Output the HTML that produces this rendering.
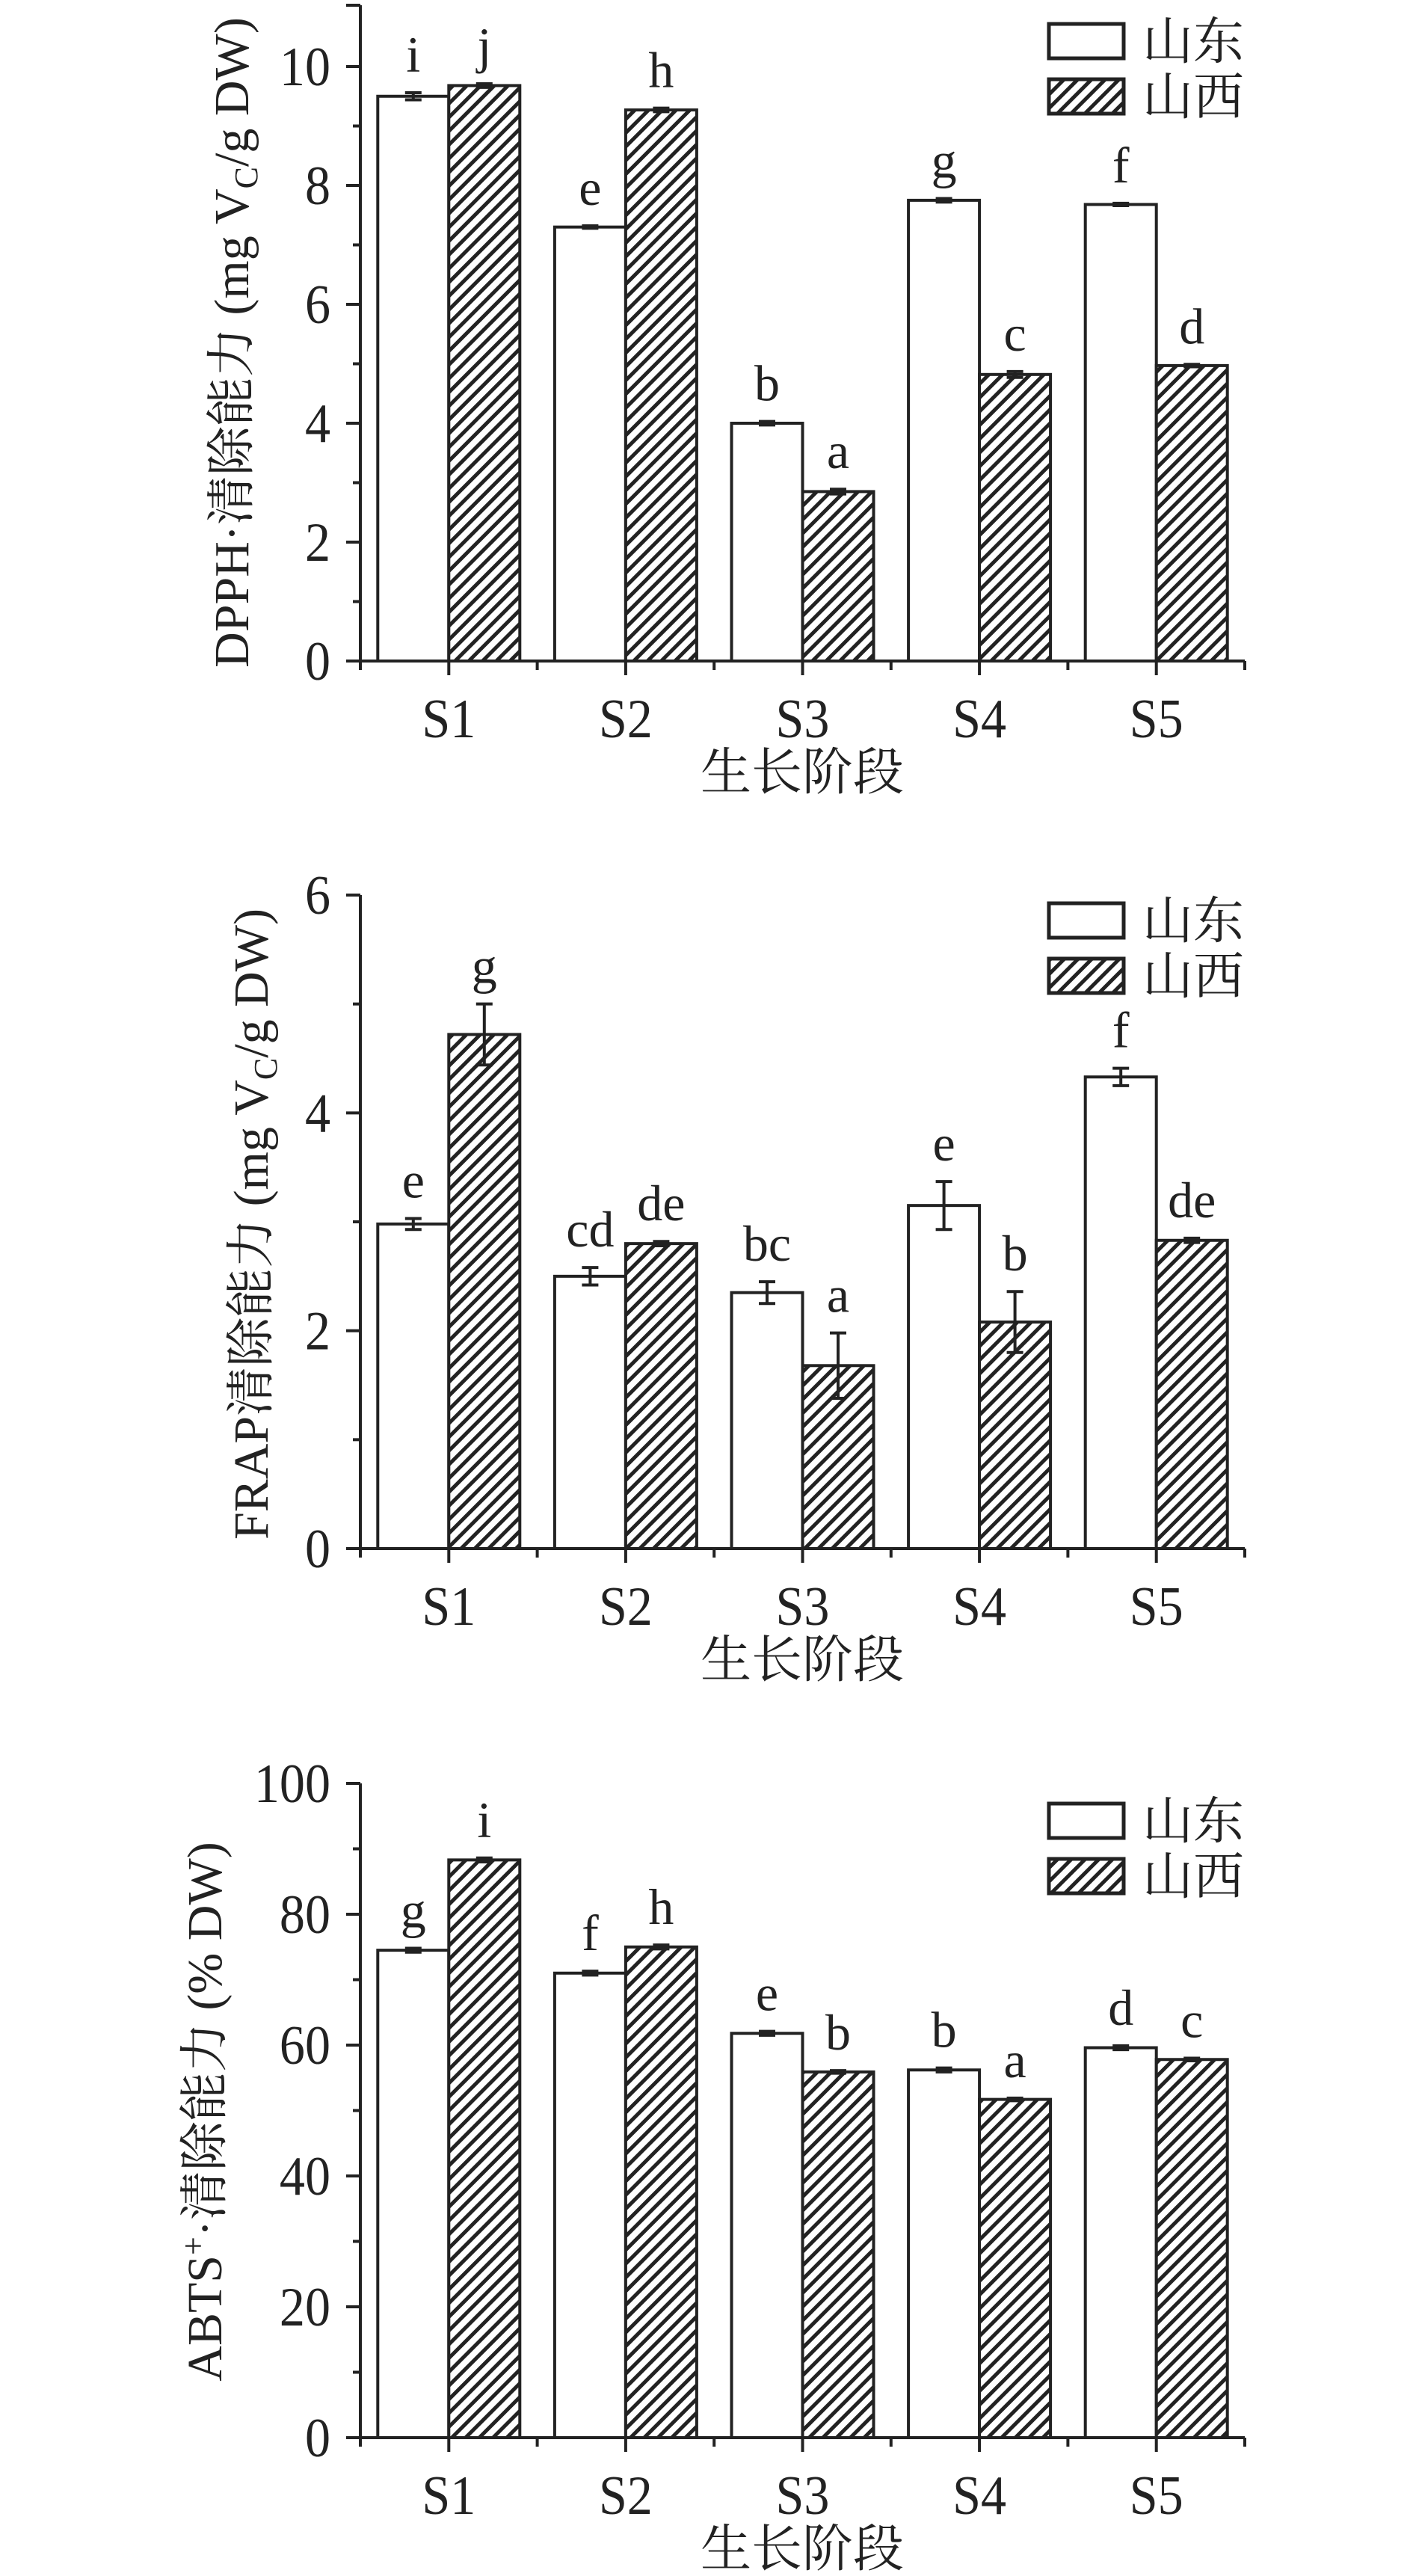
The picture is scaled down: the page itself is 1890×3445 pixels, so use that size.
<!DOCTYPE html>
<html><head><meta charset="utf-8">
<style>
html,body{margin:0;padding:0;background:#fff;}
svg{display:block;}
text{font-family:"Liberation Serif","Noto Serif CJK SC",serif;fill:#222;}
</style></head>
<body>
<svg id="fig" width="1890" height="3445" viewBox="0 0 1890 3445" xmlns="http://www.w3.org/2000/svg">
<defs>
<pattern id="hatch" patternUnits="userSpaceOnUse" width="13" height="13" patternTransform="rotate(45)">
<rect width="13" height="13" fill="#fff"/>
<rect x="0" y="0" width="5" height="13" fill="#222"/>
</pattern>
</defs>
</svg>
<script>
const categories = ["S1","S2","S3","S4","S5"];
const seriesNames = ["山东","山西"];
// Chart 1: DPPH
const dpphShandong = [9.5, 7.3, 4.0, 7.75, 7.68];
const dpphShandongErr = [0.06, 0.02, 0.03, 0.03, 0.02];
const dpphShanxi = [9.68, 9.27, 2.85, 4.82, 4.97];
const dpphShanxiErr = [0.03, 0.03, 0.04, 0.05, 0.02];
const dpphLettersShandong = ["i","e","b","g","f"];
const dpphLettersShanxi = ["j","h","a","c","d"];
const dpphTicks = [0,2,4,6,8,10];
// Chart 2: FRAP
const frapShandong = [2.98, 2.5, 2.35, 3.15, 4.33];
const frapShandongErr = [0.05, 0.08, 0.1, 0.22, 0.08];
const frapShanxi = [4.72, 2.8, 1.68, 2.08, 2.83];
const frapShanxiErr = [0.28, 0.02, 0.3, 0.28, 0.02];
const frapLettersShandong = ["e","cd","bc","e","f"];
const frapLettersShanxi = ["g","de","a","b","de"];
const frapTicks = [0,2,4,6];
// Chart 3: ABTS
const abtsShandong = [74.5, 71.0, 61.8, 56.2, 59.6];
const abtsShandongErr = [0.3, 0.3, 0.3, 0.3, 0.3];
const abtsShanxi = [88.3, 75.0, 55.9, 51.7, 57.8];
const abtsShanxiErr = [0.3, 0.3, 0.2, 0.2, 0.2];
const abtsLettersShandong = ["g","f","e","b","d"];
const abtsLettersShanxi = ["i","h","b","a","c"];
const abtsTicks = [0,20,40,60,80,100];

const NS = "http://www.w3.org/2000/svg";
const svg = document.getElementById("fig");
function mk(tag, attrs, parent){
  const e = document.createElementNS(NS, tag);
  for (const k in attrs) e.setAttribute(k, attrs[k]);
  (parent||svg).appendChild(e);
  return e;
}

function drawChart(cfg){
  const g = mk("g", {});
  
  
  const x0 = 482, x1 = 1665;
  const yScale = v => cfg.y0 - v * (cfg.y0 - cfg.yMaxPx) / cfg.tickMax;
  const groupW = (x1 - x0) / categories.length;
  const xCenter = i => x0 + groupW * (i + 0.5);
  const barW = 95;
  const series = [
    {vals: cfg.a, err: cfg.ae, lab: cfg.al, fill: "#fff", off: -barW},
    {vals: cfg.b, err: cfg.be, lab: cfg.bl, fill: "url(#hatch)", off: 0}
  ];
  series.forEach((s, si) => {
    s.vals.forEach((v, i) => {
      const bx = xCenter(i) + s.off;
      const top = yScale(v);
      const r = mk("rect", {x: bx, y: top, width: barW, height: cfg.y0 - top, fill: s.fill, stroke: "#222", "stroke-width": 4}, g);
      
      
      const cx = bx + barW / 2;
      const et = yScale(v + s.err[i]), eb = yScale(v - s.err[i]);
      const eg = mk("g", {stroke: "#222", "stroke-width": 4}, g);
      
      
      mk("line", {x1: cx, x2: cx, y1: et, y2: eb}, eg);
      mk("line", {x1: cx - 11, x2: cx + 11, y1: et, y2: et}, eg);
      mk("line", {x1: cx - 11, x2: cx + 11, y1: eb, y2: eb}, eg);
      const t = mk("text", {x: cx, y: et - 28, "text-anchor": "middle", "font-size": 68}, g);
      t.textContent = s.lab[i];
      
      
    });
  });
  const ax = mk("g", {stroke: "#222", "stroke-width": 4, fill: "none"}, g);
  
  
  mk("line", {x1: x0, x2: x0, y1: cfg.axisTop, y2: cfg.y0 + 2}, ax);
  mk("line", {x1: x0 - 2, x2: x1, y1: cfg.y0, y2: cfg.y0}, ax);
  mk("line", {x1: x0, x2: x0 - 19, y1: cfg.axisTop, y2: cfg.axisTop}, ax);
  const step = cfg.ticks[1] - cfg.ticks[0];
  cfg.ticks.forEach((tv, ti) => {
    const y = yScale(tv);
    mk("line", {x1: x0 - 19, x2: x0, y1: y, y2: y}, ax);
    if (ti < cfg.ticks.length - 1) {
      const ym = yScale(tv + step / 2);
      mk("line", {x1: x0 - 10, x2: x0, y1: ym, y2: ym}, ax);
    }
    const t = mk("text", {x: x0 - 40, y: y + 25, "text-anchor": "end", "font-size": 74, transform: `translate(${x0-40},0) scale(0.92,1) translate(${-(x0-40)},0)`}, g);
    t.textContent = tv;
    
    
  });
  categories.forEach((c, i) => {
    const xc = xCenter(i);
    mk("line", {x1: xc, x2: xc, y1: cfg.y0, y2: cfg.y0 + 19}, ax);
    const xb = x0 + groupW * (i + 1);
    mk("line", {x1: xb, x2: xb, y1: cfg.y0, y2: cfg.y0 + 12}, ax);
    const t = mk("text", {x: xc, y: cfg.y0 + 102, "text-anchor": "middle", "font-size": 74, transform: `translate(${xc},0) scale(0.92,1) translate(${-xc},0)`}, g);
    t.textContent = c;
    
    
  });
  mk("line", {x1: x0, x2: x0, y1: cfg.y0, y2: cfg.y0 + 12}, ax);
  const xt = mk("text", {x: 1073, y: cfg.y0 + 172, "text-anchor": "middle", "font-size": 68}, g);
  xt.textContent = "生长阶段";
  
  
  const yt = mk("text", {x: 0, y: 0, "text-anchor": "middle", "font-size": 66, transform: `translate(${cfg.ytX},${cfg.ytY}) rotate(-90)`}, g);
  
  
  yt.innerHTML = cfg.ytHTML;
  const lg = mk("g", {}, g);
  
  
  seriesNames.forEach((n, i) => {
    const cy = cfg.legY + i * 74;
    const b = mk("rect", {x: 1403, y: cy - 23, width: 100, height: 46, fill: i ? "url(#hatch)" : "#fff", stroke: "#222", "stroke-width": 5}, lg);
    
    
    const t = mk("text", {x: 1528, y: cy + 24, "font-size": 68}, lg);
    t.textContent = n;
    
    
  });
}

drawChart({name: "dpph-chart", a: dpphShandong, ae: dpphShandongErr, b: dpphShanxi, be: dpphShanxiErr,
  al: dpphLettersShandong, bl: dpphLettersShanxi, ticks: dpphTicks, tickMax: 10,
  y0: 884, yMaxPx: 89, axisTop: 7, legY: 55,
  ytX: 332, ytY: 458,
  ytHTML: 'DPPH·清除能力 (mg V<tspan font-size="44" dy="12">C</tspan><tspan dy="-12">/g DW)</tspan>'});
drawChart({name: "frap-chart", a: frapShandong, ae: frapShandongErr, b: frapShanxi, be: frapShanxiErr,
  al: frapLettersShandong, bl: frapLettersShanxi, ticks: frapTicks, tickMax: 6,
  y0: 2071, yMaxPx: 1197, axisTop: 1197, legY: 1231,
  ytX: 358, ytY: 1637,
  ytHTML: 'FRAP清除能力 (mg V<tspan font-size="44" dy="12">C</tspan><tspan dy="-12">/g DW)</tspan>'});
drawChart({name: "abts-chart", a: abtsShandong, ae: abtsShandongErr, b: abtsShanxi, be: abtsShanxiErr,
  al: abtsLettersShandong, bl: abtsLettersShanxi, ticks: abtsTicks, tickMax: 100,
  y0: 3260, yMaxPx: 2385, axisTop: 2385, legY: 2435,
  ytX: 296, ytY: 2824,
  ytHTML: 'ABTS<tspan font-size="44" dy="-23">+</tspan><tspan dy="23">·清除能力 (% DW)</tspan>'});
</script>
</body></html>
